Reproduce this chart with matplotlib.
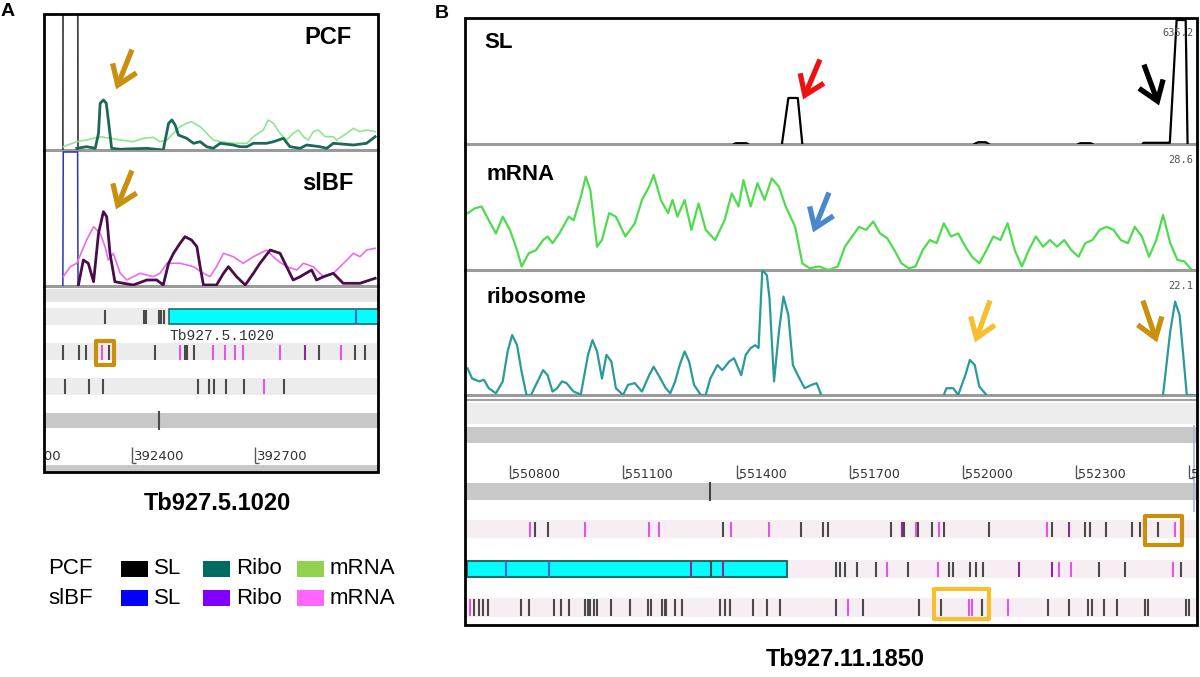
import numpy as np
import matplotlib.pyplot as plt
from matplotlib.patches import Rectangle, FancyArrowPatch

plt.rcParams['font.family'] = ['Liberation Sans', 'DejaVu Sans']

nan = np.nan
W, H = 1200, 677

# ---------------- panel A data (Tb927.5.1020) ----------------
a_xlim = (392185, 393000)
a_sl_pos = [392231, 392232, 392267, 392268]
pcf_sl_val = [0, 300, 300, 0]
slbf_sl_val = [0, 134, 134, 0]

pcf_mrna_pos = [392232, 392265, 392289, 392322, 392346, 392371, 392403, 392428, 392452, 392468,
                392485, 392501, 392517, 392533, 392545, 392566, 392582, 392598, 392615, 392647,
                392680, 392696, 392720, 392732, 392745, 392761, 392777, 392793, 392806, 392818,
                392830, 392842, 392854, 392871, 392891, 392899, 392924, 392940, 392956, 392972, 392993]
pcf_mrna_val = [3.3, 8.3, 10, 13.3, 11.7, 10, 8.3, 11.7, 12.7, 8.3,
                10, 16.7, 23.3, 26.7, 28.3, 23.3, 16.7, 10, 8.3, 6.7,
                6.7, 13.3, 20, 30, 26.7, 16.7, 10, 16.7, 20, 13.3,
                10, 18.3, 20, 13.3, 13.3, 10, 16.7, 21.7, 18.3, 20, 18.3]

pcf_ribo_pos = [392265, 392289, 392310, 392318, 392322, 392330, 392337, 392342, 392350, 392371,
                392387, 392436, 392476, 392489, 392497, 392505, 392513, 392533, 392550, 392566,
                392582, 392598, 392615, 392647, 392663, 392680, 392696, 392728, 392745, 392769,
                392785, 392810, 392826, 392858, 392875, 392891, 392940, 392972, 392993]
pcf_ribo_val = [1.7, 3.3, 1.7, 16.7, 46.7, 50, 46.7, 30, 1.7, 0.7,
                1, 1.7, 0, 26.7, 30, 25, 15, 11.7, 6.7, 8.3,
                3.3, 1.7, 6.7, 5, 3.3, 3.3, 6.7, 6.7, 8.3, 11.7,
                3.3, 1.7, 5, 3.3, 1.7, 6.7, 5, 6.7, 13.3]

slbf_mrna_pos = [392232, 392249, 392265, 392289, 392306, 392322, 392334, 392342, 392354, 392371,
                 392387, 392403, 392419, 392452, 392468, 392485, 392517, 392550, 392574, 392590,
                 392606, 392623, 392647, 392671, 392696, 392728, 392753, 392777, 392802, 392818,
                 392842, 392867, 392891, 392924, 392940, 392956, 392972, 392993]
slbf_mrna_val = [9.3, 19.3, 22.7, 46, 59.3, 52.7, 39.3, 26, 32.7, 12.7,
                 6, 9.3, 12.7, 9.3, 12.7, 22.7, 22.7, 19.3, 12.7, 9.3,
                 19.3, 32.7, 29.3, 22.7, 29.3, 36, 26, 19.3, 16, 22.7,
                 19.3, 9.3, 12.7, 26, 32.7, 29.3, 36, 37.7]

slbf_ribo_pos = [392269, 392281, 392293, 392306, 392318, 392330, 392338, 392346, 392358, 392379,
                 392403, 392436, 392460, 392476, 392489, 392501, 392517, 392529, 392545, 392558,
                 392566, 392574, 392606, 392623, 392635, 392655, 392676, 392696, 392712, 392737,
                 392761, 392777, 392793, 392810, 392838, 392850, 392867, 392891, 392915, 392956, 392993]
slbf_ribo_val = [1, 26, 22.7, 4.3, 52.7, 74.3, 69.3, 32.7, 4.3, 2.7,
                 1, 6, 6, 1, 22.7, 32.7, 42.7, 49.3, 46, 39.3,
                 19.3, 1, 1, 12.7, 19.3, 9.3, 1, 12.7, 22.7, 36,
                 32.7, 19.3, 6, 9.3, 16, 6, 9.3, 12.7, 2.7, 2.7, 7.7]

a_row1_pos = [392333, 392428, 392435, 392465, 392470, 392477]
a_row1_kind = ['k'] * 6
a_gene = (392489, 393060)
a_gene_name = 'Tb927.5.1020'
a_gene_marks = [392947]
a_row2_pos = [392231, 392270, 392288, 392326, 392343, 392456, 392516, 392530, 392535, 392550,
              392597, 392627, 392650, 392670, 392760, 392822, 392857, 392910, 392944, 392969]
a_row2_kind = ['k', 'k', 'k', 'm', 'k', 'k', 'm', 'k', 'k', 'k',
               'm', 'm', 'm', 'm', 'm', 'p', 'k', 'm', 'k', 'k']
a_row3_pos = [392237, 392296, 392329, 392560, 392587, 392599, 392630, 392674, 392723, 392770]
a_row3_kind = ['k'] * 8 + ['m', 'k']
a_row4_pos = [392465]
a_ruler = [392100, 392400, 392700]
a_box = (392313, 392355)

# ---------------- panel B data (Tb927.11.1850) ----------------
b_xlim = (550680, 552620)
sl_max, mrna_max, ribo_max = 635.2, 28.6, 22.1

sl_pos = [551393, 551398, 551425, 551430, nan, 551520, 551537, 551562, 551574, nan,
          552030, 552040, 552060, 552068, nan, 552306, 552311, 552338, 552343, nan,
          552476, 552478, 552545, 552548, 552566, 552590, 552595]
sl_val = [0, 4, 4, 0, nan, 0, 232, 232, 0, nan,
          0, 9, 9, 0, nan, 0, 4, 4, 0, nan,
          0, 6, 6, 6, 625, 625, 0]

mrna_pos = [550687, 550706, 550724, 550743, 550762, 550780, 550799, 550818, 550830, 550849,
            550868, 550887, 550899, 550912, 550930, 550955, 550968, 550987, 551000, 551012,
            551030, 551043, 551062, 551080, 551105, 551130, 551149, 551168, 551180, 551199,
            551218, 551230, 551243, 551262, 551280, 551299, 551318, 551343, 551368, 551387,
            551405, 551418, 551437, 551455, 551474, 551493, 551512, 551530, 551555, 551574,
            551593, 551618, 551643, 551668, 551687, 551706, 551724, 551743, 551762, 551780,
            551799, 551818, 551837, 551856, 551874, 551893, 551912, 551930, 551949, 551968,
            551987, 552006, 552024, 552043, 552062, 552080, 552099, 552118, 552137, 552156,
            552174, 552193, 552212, 552230, 552249, 552268, 552287, 552306, 552324, 552343,
            552362, 552380, 552399, 552418, 552437, 552455, 552474, 552493, 552512, 552530,
            552549, 552568, 552587, 552606]
mrna_val = [12.9, 14.0, 14.4, 11.3, 8.3, 12.1, 9.1, 4.5, 0.8, 3.8,
            4.5, 6.8, 7.6, 6.1, 8.3, 12.1, 11.3, 16.6, 21.2, 18.2,
            5.3, 6.8, 12.9, 12.1, 7.6, 10.6, 15.9, 18.9, 21.6, 15.9,
            12.9, 15.9, 12.1, 15.9, 9.1, 15.1, 9.1, 6.8, 11.3, 17.4,
            14.4, 20.4, 14.4, 19.7, 15.9, 20.8, 18.9, 14.4, 9.8, 1.5,
            0.4, 0.8, 0.0, 0.8, 5.3, 7.6, 9.8, 9.1, 11.0, 8.3,
            7.2, 4.5, 1.5, 0.4, 0.8, 4.5, 6.8, 6.1, 10.6, 7.6,
            8.3, 5.3, 3.0, 1.5, 4.5, 7.6, 6.8, 10.6, 4.5, 0.8,
            4.5, 7.6, 5.3, 6.8, 5.3, 6.8, 4.5, 3.0, 6.1, 6.8,
            9.1, 9.8, 9.1, 6.8, 6.1, 9.8, 7.6, 3.0, 6.8, 12.5,
            6.1, 2.3, 1.9, 0.0]

ribo_pos = [550687, 550699, 550718, 550730, 550743, 550762, 550780, 550793, 550805, 550818,
            550830, 550843, 550855, 550868, 550887, 550899, 550912, 550924, 550937, 550949,
            550968, 550987, 551006, 551018, 551030, 551043, 551055, 551068, 551080, 551099,
            551112, 551130, 551149, 551168, 551180, 551193, 551212, 551224, 551237, 551249,
            551262, 551274, 551287, 551305, 551318, 551330, 551349, 551362, 551380, 551393,
            551412, 551424, 551437, 551449, 551458, 551468, 551480, 551487, 551499, 551512,
            551524, 551537, 551549, 551562, 551580, 551599, 551612, 551624, nan,
            551949, 551956, 551974, 551987, 552006, 552018, 552031, 552043, 552062, nan,
            552530, 552549, 552562, 552574, 552593, 552612]
ribo_val = [4.7, 2.9, 2.4, 2.7, 1.2, 0.3, 2.4, 7.7, 10.6, 8.8,
            4.1, 0, 0, 1.8, 4.4, 3.5, 0.6, 1.2, 2.4, 2.1,
            0.6, 0.1, 7.1, 9.7, 7.7, 2.9, 7.1, 5.9, 1.2, 0,
            1.8, 2.1, 0.6, 3.5, 5.0, 3.5, 1.2, 0.3, 2.4, 5.3,
            7.7, 5.9, 1.8, 0, 0, 2.9, 5.3, 4.4, 5.9, 6.5,
            3.5, 7.1, 8.3, 8.8, 8.3, 22.1, 21.2, 17.1, 2.4, 11.2,
            17.4, 14.1, 5.3, 3.5, 1.2, 1.8, 2.1, 0, nan,
            0, 1.2, 1.2, 0, 3.5, 6.2, 5.3, 1.5, 0, nan,
            0, 11.2, 16.5, 14.1, 0, 0]

b_ruler = [550800, 551100, 551400, 551700, 552000, 552300, 552600]
b_band_mark = [551330]
b_row1_pos = [550853, 550866, 550899, 550999, 551168, 551193, 551364, 551384, 551487, 551570,
              551628, 551643, 551808, 551837, 551843, 551874, 551880, 551918, 551937, 551949,
              552070, 552222, 552237, 552280, 552324, 552337, 552378, 552449, 552468, 552516, 552562]
b_row1_kind = ['m', 'k', 'k', 'm', 'm', 'm', 'k', 'm', 'm', 'k',
               'k', 'k', 'k', 'p', 'k', 'm', 'k', 'k', 'm', 'k',
               'k', 'm', 'k', 'p', 'k', 'k', 'k', 'k', 'k', 'k', 'm']
b_gene = (550685, 551533)
b_gene_marks = [550789, 550903, 551280, 551333, 551364]
b_gene_mark_kind = ['b', 'b', 'p', 'k', 'p']
b_row2_pos = [551662, 551674, 551687, 551718, 551768, 551799, 551853, 551933, 551962, 551974,
              552018, 552034, 552053, 552149, 552237, 552253, 552287, 552359, 552428, 552556, 552578]
b_row2_kind = ['k', 'k', 'k', 'k', 'k', 'm', 'k', 'm', 'k', 'k',
               'k', 'k', 'k', 'p', 'p', 'm', 'm', 'k', 'k', 'm', 'k']
b_row3_pos = [550693, 550703, 550716, 550728, 550741, 550828, 550849, 550916, 550934, 550956,
              550999, 551006, 551012, 551021, 551031, 551066, 551118, 551166, 551174, 551203,
              551209, 551214, 551237, 551256, 551356, 551368, 551381, 551443, 551481, 551514,
              551662, 551696, 551734, 551884, 551941, 552016, 552024, 552049, 552118, 552224,
              552281, 552331, 552343, 552374, 552409, 552481, 552489, 552591, 552599]
b_row3_kind = ['m'] + ['k'] * 30 + ['m', 'k', 'k', 'k', 'm', 'm', 'k', 'm'] + ['k'] * 10
b_gold_box = (552483, 552580)
b_yellow_box = (551924, 552068)

tick_colors = {'k': '#4a4a4a', 'm': '#e455e4', 'p': '#8a2a9c', 'b': '#4a64d8'}
gold, yellow = '#c8900c', '#f7bf2e'

fig = plt.figure(figsize=(12, 6.77), dpi=100)


def box(x0, y0, x1, y1):
    return [x0 / W, 1 - y1 / H, (x1 - x0) / W, (y1 - y0) / H]


def signal_axes(rect, xlim, ymax):
    ax = fig.add_axes(box(*rect))
    ax.set_xlim(xlim)
    ax.set_ylim(0, ymax)
    ax.axis('off')
    ax.axhline(0, color='#9a9a9a', lw=2.2, zorder=1, clip_on=False)
    return ax


def track_axes(rect, xlim):
    ax = fig.add_axes(box(*rect))
    ax.set_xlim(xlim)
    ax.set_ylim(rect[3], rect[1])
    ax.axis('off')
    return ax


def ticks(ax, pos, kinds, y0, y1, lw=1.5):
    ax.vlines(pos, y0, y1, colors=[tick_colors[k] for k in kinds], lw=lw, zorder=3)


def ruler(ax, pos, y0, y1, ylab, bp_per_px, size):
    ax.vlines(pos, y0, y1, color='#555555', lw=1)
    ax.hlines([y1] * len(pos), pos, [p + 4 * bp_per_px for p in pos], color='#555555', lw=1)
    for p in pos:
        ax.text(p + 2 * bp_per_px, ylab, str(p), fontsize=size, va='center',
                ha='left', family='DejaVu Sans', color='#333333', clip_on=True)


def arrow(x0, y0, x1, y1, color):
    fig.add_artist(FancyArrowPatch((x0 / W, 1 - y0 / H), (x1 / W, 1 - y1 / H),
                                   transform=fig.transFigure, color=color, lw=3.8,
                                   arrowstyle='->,head_length=0.6,head_width=0.42',
                                   mutation_scale=22, joinstyle='miter', capstyle='butt'))


# ---------------- panel A ----------------
ax = signal_axes((44, 14, 378, 150), a_xlim, 136)
ax.plot(a_sl_pos, pcf_sl_val, color='#444444', lw=1.3)
ax.plot(pcf_mrna_pos, pcf_mrna_val, color='#8ee68e', lw=1.2)
ax.plot(pcf_ribo_pos, pcf_ribo_val, color='#1d6858', lw=2)
fig.text(328 / W, 1 - 37 / H, 'PCF', fontsize=17, fontweight='bold', ha='center', va='center')

ax = signal_axes((44, 150, 378, 286), a_xlim, 136)
ax.plot(a_sl_pos, slbf_sl_val, color='#2a36b0', lw=1.1)
ax.plot(slbf_mrna_pos, slbf_mrna_val, color='#ec6aec', lw=1.2)
ax.plot(slbf_ribo_pos, slbf_ribo_val, color='#4a0d4a', lw=2)
fig.text(328 / W, 1 - 183 / H, 'slBF', fontsize=17, fontweight='bold', ha='center', va='center')

ax = track_axes((44, 286, 378, 472), a_xlim)
ax.axhspan(289, 302, color='#e4e4e4', lw=0)
for y0, y1 in [(308, 325), (343, 360), (378, 395)]:
    ax.axhspan(y0, y1, color='#ececec', lw=0)
ax.axhspan(413, 428, color='#c8c8c8', lw=0)
ax.axhspan(465, 472, color='#c8c8c8', lw=0)
ax.add_patch(Rectangle((a_gene[0], 309), a_gene[1] - a_gene[0], 15, facecolor='#00ffff',
                       edgecolor='#2a6a6a', lw=1.2, zorder=2))
ax.vlines(a_gene_marks, 309, 324, color=tick_colors['b'], lw=1.5, zorder=3)
ax.text(a_gene[0] + 2, 336, a_gene_name, family='Liberation Mono', fontsize=10.5,
        va='center', ha='left', color='#333333')
ticks(ax, a_row1_pos, a_row1_kind, 310, 324)
ticks(ax, a_row2_pos, a_row2_kind, 345, 360)
ticks(ax, a_row3_pos, a_row3_kind, 379, 394)
ticks(ax, a_row4_pos, ['k'], 411, 430)
ruler(ax, a_ruler, 447, 463, 456, 2.44, 9.5)
ax.add_patch(Rectangle((a_box[0], 341), a_box[1] - a_box[0], 24, fill=False,
                       edgecolor=gold, lw=3, joinstyle='round', zorder=4))

fig.add_artist(Rectangle((44 / W, 1 - 472 / H), 334 / W, 458 / H, fill=False,
                         edgecolor='black', lw=2, transform=fig.transFigure))

arrow(133, 47, 115, 92, gold)
arrow(133, 168, 115, 212, gold)

fig.text(8 / W, 1 - 11 / H, 'A', fontsize=14, fontweight='bold', ha='center', va='center')
fig.text(217 / W, 1 - 504 / H, 'Tb927.5.1020', fontsize=17, fontweight='bold',
         ha='center', va='center')

# legend
legend_rows = ['PCF', 'slBF']
legend_labels = ['SL', 'Ribo', 'mRNA']
legend_colors = [['#000000', '#006b63', '#92d050'], ['#0000ff', '#7f00ff', '#ff66ff']]
for r, (name, cols) in enumerate(zip(legend_rows, legend_colors)):
    yc = 569 + r * 29
    fig.text(48 / W, 1 - yc / H, name, fontsize=16, ha='left', va='center')
    for x0, lab, col in zip([121, 203, 297], legend_labels, cols):
        fig.add_artist(Rectangle((x0 / W, 1 - (yc + 8) / H), 27 / W, 16 / H,
                                 facecolor=col, edgecolor='none', transform=fig.transFigure))
        fig.text((x0 + 33) / W, 1 - yc / H, lab, fontsize=16, ha='left', va='center')

# ---------------- panel B ----------------
ax = signal_axes((465, 18, 1197, 144), b_xlim, sl_max)
ax.plot(sl_pos, sl_val, color='black', lw=1.6)
ax.text(0.995, 0.88, f'{sl_max}', transform=ax.transAxes, ha='right', va='center',
        family='DejaVu Sans Mono', fontsize=7.5, color='#555555')
fig.text(484 / W, 1 - 43 / H, 'SL', fontsize=16, fontweight='bold', ha='left', va='center')

ax = signal_axes((465, 144, 1197, 270), b_xlim, mrna_max)
ax.plot(mrna_pos, mrna_val, color='#4edc4e', lw=1.6)
ax.text(0.995, 0.87, f'{mrna_max}', transform=ax.transAxes, ha='right', va='center',
        family='DejaVu Sans Mono', fontsize=7.5, color='#555555')
fig.text(486 / W, 1 - 175 / H, 'mRNA', fontsize=16, fontweight='bold', ha='left', va='center')

ax = signal_axes((465, 270, 1197, 395), b_xlim, ribo_max)
ax.plot(ribo_pos, ribo_val, color='#2a9a9a', lw=1.6)
ax.text(0.995, 0.87, f'{ribo_max}', transform=ax.transAxes, ha='right', va='center',
        family='DejaVu Sans Mono', fontsize=7.5, color='#555555')
fig.text(486 / W, 1 - 298 / H, 'ribosome', fontsize=16, fontweight='bold', ha='left', va='center')

ax = track_axes((465, 395, 1197, 625), b_xlim)
ax.axhline(399.5, color='#a0a0a0', lw=1.5)
ax.axhspan(403, 424, color='#ededed', lw=0)
ax.axhspan(427, 443, color='#c8c8c8', lw=0)
ax.axhspan(483, 500, color='#c8c8c8', lw=0)
ax.vlines(b_band_mark, 482, 501, color='#333333', lw=1.3)
ax.vlines([b_xlim[1] - 7], 425, 512, color='#a9b6cc', lw=1.2)
ruler(ax, b_ruler, 465, 478, 474, 2.65, 9)
for y0, y1 in [(520, 538), (560, 578), (598, 617)]:
    ax.axhspan(y0, y1, color='#f6eef3', lw=0)
ax.add_patch(Rectangle((b_gene[0], 561), b_gene[1] - b_gene[0], 16, facecolor='#00ffff',
                       edgecolor='#2a6a6a', lw=1.5, zorder=2))
ticks(ax, b_gene_marks, b_gene_mark_kind, 561, 577)
ticks(ax, b_row1_pos, b_row1_kind, 522, 537)
ticks(ax, b_row2_pos, b_row2_kind, 562, 577)
ticks(ax, b_row3_pos, b_row3_kind, 599, 616)
ax.add_patch(Rectangle((b_gold_box[0], 516), b_gold_box[1] - b_gold_box[0], 29, fill=False,
                       edgecolor=gold, lw=3, joinstyle='round', zorder=4))
ax.add_patch(Rectangle((b_yellow_box[0], 589), b_yellow_box[1] - b_yellow_box[0], 30, fill=False,
                       edgecolor=yellow, lw=3, joinstyle='round', zorder=4))

fig.add_artist(Rectangle((465 / W, 1 - 625 / H), 732 / W, 607 / H, fill=False,
                         edgecolor='black', lw=2, transform=fig.transFigure))

arrow(821, 57, 802, 102, '#ee1111')
arrow(1143, 62, 1160, 108, 'black')
arrow(830, 190, 812, 235, '#4a88cc')
arrow(991, 298, 974, 345, yellow)
arrow(1142, 298, 1158, 345, gold)

fig.text(442 / W, 1 - 13 / H, 'B', fontsize=14, fontweight='bold', ha='center', va='center')
fig.text(845 / W, 1 - 660 / H, 'Tb927.11.1850', fontsize=17, fontweight='bold',
         ha='center', va='center')

fig.savefig('out.png', dpi=100)
